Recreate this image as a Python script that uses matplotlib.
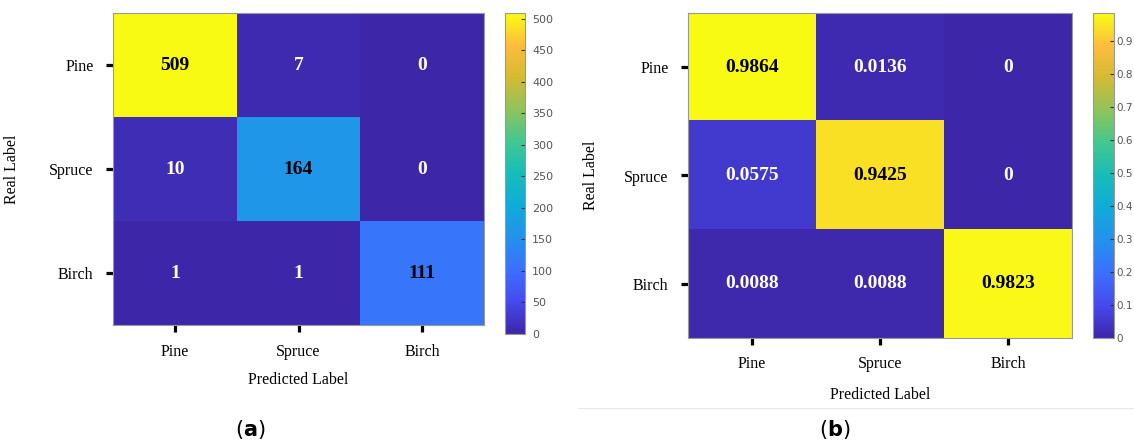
import numpy as np
import matplotlib
matplotlib.use("Agg")
import matplotlib.pyplot as plt
from matplotlib.colors import LinearSegmentedColormap, Normalize
from matplotlib.lines import Line2D

# ---- data ----
classes = ["Pine", "Spruce", "Birch"]
counts = [[509, 7, 0],
          [10, 164, 0],
          [1, 1, 111]]
rates = [[0.9864, 0.0136, 0],
         [0.0575, 0.9425, 0],
         [0.0088, 0.0088, 0.9823]]
count_labels = [["509", "7", "0"], ["10", "164", "0"], ["1", "1", "111"]]
rate_labels = [["0.9864", "0.0136", "0"], ["0.0575", "0.9425", "0"], ["0.0088", "0.0088", "0.9823"]]
cbar_ticks_a = [0, 50, 100, 150, 200, 250, 300, 350, 400, 450, 500]
cbar_ticks_b = [0, 0.1, 0.2, 0.3, 0.4, 0.5, 0.6, 0.7, 0.8, 0.9]

# parula-like colormap
parula_pts = [
    (0.00, (0.242, 0.150, 0.660)),
    (0.10, (0.275, 0.290, 0.935)),
    (0.20, (0.230, 0.440, 0.995)),
    (0.30, (0.140, 0.570, 0.925)),
    (0.40, (0.060, 0.670, 0.850)),
    (0.50, (0.090, 0.735, 0.720)),
    (0.60, (0.260, 0.780, 0.565)),
    (0.70, (0.560, 0.765, 0.360)),
    (0.80, (0.830, 0.730, 0.200)),
    (0.90, (0.990, 0.740, 0.235)),
    (1.00, (0.977, 0.984, 0.081)),
]
parula = LinearSegmentedColormap.from_list("parula", parula_pts)

W, H = 1134, 444
fig = plt.figure(figsize=(W / 100, H / 100), dpi=100)
serif = "Liberation Serif"


def fx(x):
    return x / W


def fy(y):
    return 1 - y / H


def panel(ax_box, cb_box, data, labels, ticks, tickfmt, vmax, ylab_x, xlab_y, xpad, cb_pad, cb_size):
    x0, y0, x1, y1 = ax_box
    ax = fig.add_axes([fx(x0), fy(y1), fx(x1) - fx(x0), fy(y0) - fy(y1)])
    arr = np.array(data, dtype=float)
    norm = Normalize(0, vmax)
    im = ax.imshow(arr, cmap=parula, norm=norm, aspect="auto")
    for i in range(3):
        for j in range(3):
            v = arr[i, j] / vmax
            col = "black" if v > 0.15 else "white"
            ax.text(j, i, labels[i][j], ha="center", va="center", color=col,
                    fontsize=14, fontweight="bold", family=serif)
    ax.set_xticks(range(3))
    ax.set_yticks(range(3))
    ax.set_xticklabels(classes, family=serif, fontsize=11.5)
    ax.set_yticklabels(classes, family=serif, fontsize=11.5)
    ax.tick_params(axis="both", length=5, width=2.3, color="black")
    ax.tick_params(axis="x", pad=xpad)
    ax.tick_params(axis="y", pad=9)
    for s in ax.spines.values():
        s.set_color("#999999")
        s.set_linewidth(0.8)
    ax.set_xlabel("Predicted Label", family=serif, fontsize=11.5, va="center")
    ax.set_ylabel("Real Label", family=serif, fontsize=11.5)
    ax.yaxis.set_label_coords((ylab_x - x0) / (x1 - x0), 0.5)
    ax.xaxis.set_label_coords(0.5, (y1 - xlab_y) / (y1 - y0))

    cx0, cy0, cx1, cy1 = cb_box
    cax = fig.add_axes([fx(cx0), fy(cy1), fx(cx1) - fx(cx0), fy(cy0) - fy(cy1)])
    cb = fig.colorbar(im, cax=cax, ticks=ticks)
    cb.ax.set_yticklabels([tickfmt(t) for t in ticks])
    cb.ax.tick_params(direction="in", length=3, width=0.8, color="#333333",
                      labelsize=cb_size, labelcolor="#555555", pad=cb_pad)
    cb.outline.set_edgecolor("#999999")
    cb.outline.set_linewidth(0.8)
    return ax


panel((113, 13, 484, 325), (505, 13, 525, 334), counts, count_labels,
      cbar_ticks_a, lambda t: f"{t:d}", 509, 20, 380, 9, 5, 8)
panel((688, 13, 1072, 338), (1093, 13, 1114, 338), rates, rate_labels,
      cbar_ticks_b, lambda t: ("0" if t == 0 else f"{t:.1f}"), 0.9864, 599, 395, 8, 2, 7.5)

fig.text(fx(250), fy(429), r"($\mathbf{a}$)", ha="center", va="center", fontsize=15)
fig.text(fx(835), fy(429), r"($\mathbf{b}$)", ha="center", va="center", fontsize=15)
fig.add_artist(Line2D([fx(578), 1.0], [fy(408), fy(408)], color="#e6e6e6", lw=0.8))

fig.savefig("out.png", dpi=100)
